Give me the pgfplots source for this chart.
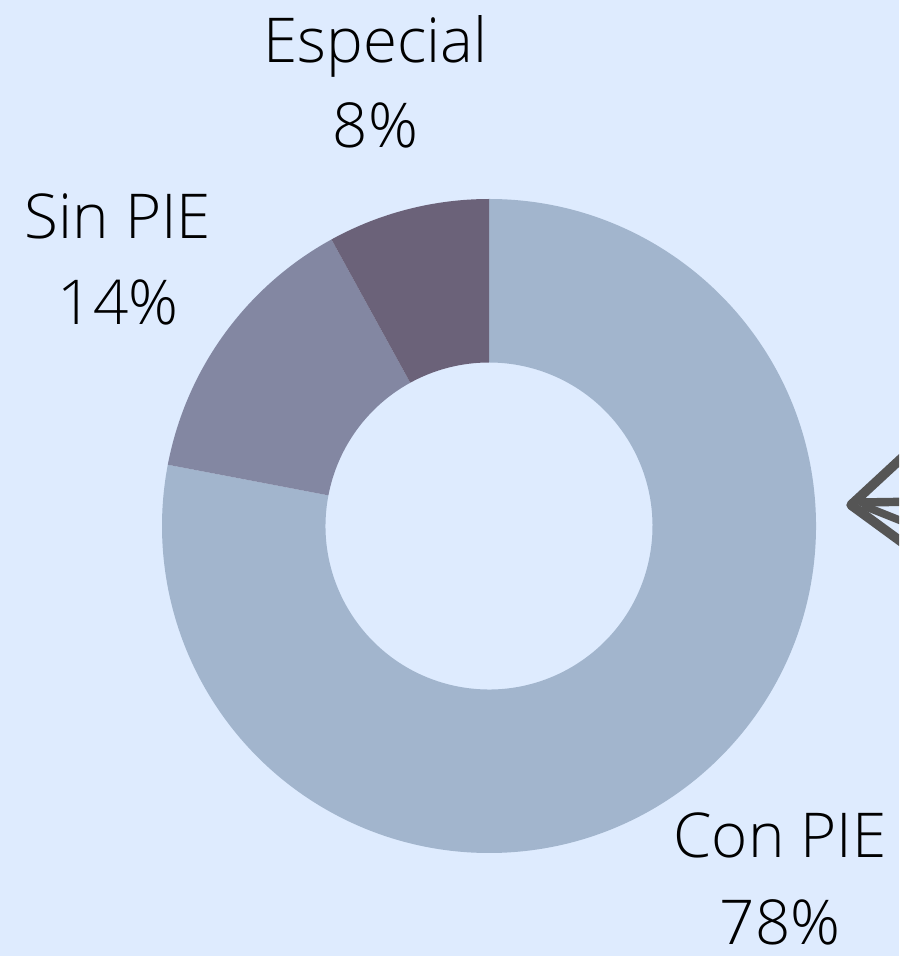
\documentclass[border=0pt]{standalone}
\usepackage{pgfplots}
\pgfplotsset{compat=1.18}
\usepackage{pgfplotstable}
\usepackage{fontspec}
\setmainfont{Open Sans}[UprightFont=* Light]
\definecolor{bg}{HTML}{DEEBFE}
\definecolor{conpie}{HTML}{A2B5CD}
\definecolor{sinpie}{HTML}{8387A2}
\definecolor{especial}{HTML}{6B6279}
\definecolor{arrowc}{HTML}{555555}
\pgfplotstableread{
label value
ConPIE 78
SinPIE 14
Especial 8
}\datatable
\begin{document}
\begin{tikzpicture}
\pgfplotstablegetelem{0}{value}\of\datatable\let\vA\pgfplotsretval
\pgfplotstablegetelem{1}{value}\of\datatable\let\vB\pgfplotsretval
\pgfplotstablegetelem{2}{value}\of\datatable\let\vC\pgfplotsretval
\pgfmathsetmacro{\aA}{90}
\pgfmathsetmacro{\aB}{\aA-3.6*\vA}
\pgfmathsetmacro{\aC}{\aB-3.6*\vB}
\pgfmathsetmacro{\aD}{\aC-3.6*\vC}
\begin{axis}[
  width=8.99cm, height=9.56cm, scale only axis,
  xmin=-1.4954, xmax=1.2538, ymin=-1.3150, ymax=1.6086,
  hide axis, clip=true,
]
\fill[bg] (rel axis cs:0,0) rectangle (rel axis cs:1,1);
\fill[conpie] ({cos(\aA)},{sin(\aA)}) arc[start angle=\aA, end angle=\aB, radius=1]
   -- ({0.5*cos(\aB)},{0.5*sin(\aB)}) arc[start angle=\aB, end angle=\aA, radius=0.5] -- cycle;
\fill[sinpie] ({cos(\aB)},{sin(\aB)}) arc[start angle=\aB, end angle=\aC, radius=1]
   -- ({0.5*cos(\aC)},{0.5*sin(\aC)}) arc[start angle=\aC, end angle=\aB, radius=0.5] -- cycle;
\fill[especial] ({cos(\aC)},{sin(\aC)}) arc[start angle=\aC, end angle=\aD, radius=1]
   -- ({0.5*cos(\aD)},{0.5*sin(\aD)}) arc[start angle=\aD, end angle=\aC, radius=0.5] -- cycle;
\draw[arrowc, line width=2.7pt, line cap=round, line join=round]
   (axis cs:1.27,0.215) -- (axis cs:1.107,0.0642) -- (axis cs:1.27,-0.055);
\draw[arrowc, line width=2.4pt, line cap=round] (axis cs:1.14,0.072) -- (axis cs:1.27,0.074);
\draw[arrowc, line width=2.2pt, line cap=round] (axis cs:1.15,0.060) -- (axis cs:1.27,0.012);
\node[anchor=base, font=\fontsize{17.6}{21}\selectfont] at (axis cs:-0.347,1.4159) {Especial};
\node[anchor=base, font=\fontsize{17.6}{21}\selectfont] at (axis cs:-0.347,1.156) {\vC\%};
\node[anchor=base, font=\fontsize{17.6}{21}\selectfont] at (axis cs:-1.1346,0.8807) {Sin PIE};
\node[anchor=base, font=\fontsize{17.6}{21}\selectfont] at (axis cs:-1.1346,0.6147) {\vB\%};
\node[anchor=base, font=\fontsize{17.6}{21}\selectfont] at (axis cs:0.890,-1.0153) {Con PIE};
\node[anchor=base, font=\fontsize{17.6}{21}\selectfont] at (axis cs:0.890,-1.2813) {\vA\%};
\end{axis}
\end{tikzpicture}
\end{document}
